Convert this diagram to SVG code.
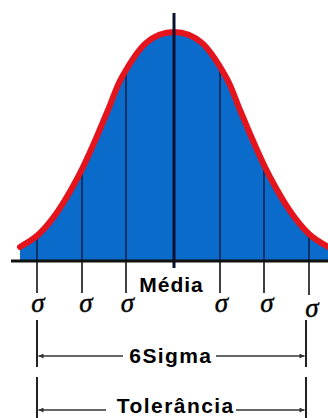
<svg xmlns="http://www.w3.org/2000/svg" width="328" height="418" viewBox="0 0 328 418">
  <style>
    .lbl { font-family: "Liberation Sans", Arial, sans-serif; font-weight: bold; font-size: 21px; fill: #000; }
    .sig { font-family: "Liberation Serif", "Times New Roman", serif; font-style: italic; font-size: 27px; fill: #000; stroke: #000; stroke-width: 0.4; text-anchor: middle; }
    .inner { stroke: #0a1f4a; stroke-width: 1.5; }
    .tick { stroke: #111; stroke-width: 1.6; }
    .dim { stroke: #222; stroke-width: 2; }
    .arr { stroke: #333; stroke-width: 1.5; fill: none; }
  </style>
  <defs>
    <path id="curve" d="M20,247 C25.2,243.8 32.7,240 39,234 C45.3,228 51.5,220.5 58,211 C64.5,201.5 72,188.3 78,177 C84,165.7 89,154.2 94,143 C99,131.8 103.3,121 108,110 C112.7,99 115.7,88.2 122,77 C128.3,65.8 137.3,50.5 146,43 C154.7,35.5 164.7,32 174,32 C183.3,32 193.3,35.5 202,43 C210.7,50.5 219.7,65.8 226,77 C232.3,88.2 235.3,99 240,110 C244.7,121 249,131.8 254,143 C259,154.2 264,165.7 270,177 C276,188.3 283.5,201.5 290,211 C296.5,220.5 302.7,228 309,234 C315.3,240 322.8,243.8 330,248"/>
    <clipPath id="fillclip">
      <path d="M20,247 C25.2,243.8 32.7,240 39,234 C45.3,228 51.5,220.5 58,211 C64.5,201.5 72,188.3 78,177 C84,165.7 89,154.2 94,143 C99,131.8 103.3,121 108,110 C112.7,99 115.7,88.2 122,77 C128.3,65.8 137.3,50.5 146,43 C154.7,35.5 164.7,32 174,32 C183.3,32 193.3,35.5 202,43 C210.7,50.5 219.7,65.8 226,77 C232.3,88.2 235.3,99 240,110 C244.7,121 249,131.8 254,143 C259,154.2 264,165.7 270,177 C276,188.3 283.5,201.5 290,211 C296.5,220.5 302.7,228 309,234 C315.3,240 322.8,243.8 330,248 L330,262 L20,262 Z"/>
    </clipPath>
    <marker id="ah" viewBox="0 0 10 10" refX="10" refY="5" markerUnits="userSpaceOnUse" markerWidth="6" markerHeight="5" orient="auto">
      <path d="M0,0 L10,5 L0,10 z" fill="#333"/>
    </marker>
  </defs>

  <g id="curve-fill">
    <path d="M20,247 C25.2,243.8 32.7,240 39,234 C45.3,228 51.5,220.5 58,211 C64.5,201.5 72,188.3 78,177 C84,165.7 89,154.2 94,143 C99,131.8 103.3,121 108,110 C112.7,99 115.7,88.2 122,77 C128.3,65.8 137.3,50.5 146,43 C154.7,35.5 164.7,32 174,32 C183.3,32 193.3,35.5 202,43 C210.7,50.5 219.7,65.8 226,77 C232.3,88.2 235.3,99 240,110 C244.7,121 249,131.8 254,143 C259,154.2 264,165.7 270,177 C276,188.3 283.5,201.5 290,211 C296.5,220.5 302.7,228 309,234 C315.3,240 322.8,243.8 330,248 L330,262 L20,262 Z" fill="#0b6bcb"/>
  </g>

  <g id="sigma-lines-inside" clip-path="url(#fillclip)">
    <line class="inner" x1="37" y1="20" x2="37" y2="262"/>
    <line class="inner" x1="82" y1="20" x2="82" y2="262"/>
    <line class="inner" x1="126" y1="20" x2="126" y2="262"/>
    <line class="inner" x1="220" y1="20" x2="220" y2="262"/>
    <line class="inner" x1="264" y1="20" x2="264" y2="262"/>
    <line class="inner" x1="309" y1="20" x2="309" y2="262"/>
  </g>

  <g id="curve-outline">
    <use href="#curve" fill="none" stroke="#e3141b" stroke-width="6" stroke-linecap="round"/>
  </g>

  <g id="mean-line">
    <line x1="174" y1="13" x2="174" y2="268" stroke="#0a1030" stroke-width="3"/>
  </g>

  <g id="baseline">
    <line x1="11" y1="261" x2="328" y2="261" stroke="#111" stroke-width="3"/>
  </g>

  <g id="sigma-ticks">
    <line class="tick" x1="37" y1="261" x2="37" y2="293"/>
    <line class="tick" x1="82" y1="261" x2="82" y2="293"/>
    <line class="tick" x1="126" y1="261" x2="126" y2="293"/>
    <line class="tick" x1="220" y1="261" x2="220" y2="293"/>
    <line class="tick" x1="264" y1="261" x2="264" y2="293"/>
    <line class="tick" x1="309" y1="261" x2="309" y2="295"/>
  </g>

  <g id="sigma-labels">
    <text class="sig" x="38" y="312">σ</text>
    <text class="sig" x="86" y="312">σ</text>
    <text class="sig" x="127.5" y="312">σ</text>
    <text class="sig" x="221.5" y="312">σ</text>
    <text class="sig" x="267" y="312">σ</text>
    <text class="sig" x="312" y="316.5">σ</text>
  </g>

  <g id="media-label">
    <text class="lbl" x="139.3" y="291.7" textLength="63.4" lengthAdjust="spacing">Média</text>
  </g>

  <g id="connectors">
    <line class="dim" x1="37" y1="320" x2="37" y2="367"/>
    <line class="dim" x1="37" y1="377" x2="37" y2="418"/>
    <line class="dim" x1="306" y1="320" x2="306" y2="367"/>
    <line class="dim" x1="306" y1="377" x2="306" y2="418"/>
    <line class="arr" x1="123" y1="356" x2="38.5" y2="356" marker-end="url(#ah)"/>
    <line class="arr" x1="216" y1="356" x2="304.5" y2="356" marker-end="url(#ah)"/>
    <line class="arr" x1="106" y1="410" x2="38.5" y2="410" marker-end="url(#ah)"/>
    <line class="arr" x1="236" y1="410" x2="304.5" y2="410" marker-end="url(#ah)"/>
  </g>

  <g id="six-sigma-label">
    <text class="lbl" x="129.3" y="363.3" textLength="81.7" lengthAdjust="spacing">6Sigma</text>
  </g>

  <g id="tolerancia-label">
    <text class="lbl" x="116.7" y="413.3" textLength="116.6" lengthAdjust="spacing">Tolerância</text>
  </g>
</svg>
